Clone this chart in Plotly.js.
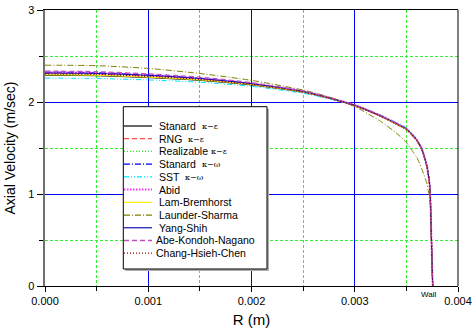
<!DOCTYPE html>
<html>
<head>
<meta charset="utf-8">
<script src="https://cdn.plot.ly/plotly-3.0.1.min.js"></script>
<style>html,body{margin:0;padding:0;background:#fff;}#chart{width:472px;height:333px;}</style>
</head>
<body>
<div id="chart"></div>
<script>
// Radial positions (m)
const radius = [0, 0.0005, 0.001, 0.0015, 0.002, 0.0025, 0.00275, 0.003, 0.00325, 0.0034, 0.0035, 0.00355, 0.0036, 0.00365, 0.0037, 0.00371, 0.00372, 0.00373, 0.00374, 0.003748, 0.003755];

// Axial velocity (m/sec) per turbulence model
const standardKE   = [2.290, 2.285, 2.265, 2.235, 2.185, 2.105, 2.040, 1.960, 1.845, 1.760, 1.700, 1.645, 1.580, 1.480, 1.290, 1.220, 1.150, 1.020, 0.620, 0.280, 0];
const rngKE        = [2.310, 2.305, 2.285, 2.250, 2.195, 2.110, 2.040, 1.960, 1.845, 1.760, 1.700, 1.645, 1.580, 1.480, 1.290, 1.220, 1.150, 1.020, 0.620, 0.280, 0];
const realizableKE = [2.300, 2.295, 2.275, 2.240, 2.190, 2.105, 2.040, 1.962, 1.848, 1.763, 1.702, 1.648, 1.583, 1.483, 1.292, 1.222, 1.152, 1.022, 0.622, 0.282, 0];
const standardKW   = [2.325, 2.320, 2.295, 2.260, 2.200, 2.115, 2.045, 1.965, 1.850, 1.765, 1.705, 1.650, 1.585, 1.485, 1.295, 1.225, 1.155, 1.025, 0.625, 0.285, 0];
const sstKW        = [2.260, 2.255, 2.240, 2.215, 2.170, 2.095, 2.035, 1.965, 1.860, 1.780, 1.720, 1.665, 1.600, 1.500, 1.310, 1.240, 1.170, 1.040, 0.640, 0.290, 0];
const abid         = [2.320, 2.315, 2.290, 2.255, 2.200, 2.115, 2.045, 1.965, 1.850, 1.768, 1.708, 1.652, 1.588, 1.488, 1.298, 1.228, 1.158, 1.028, 0.628, 0.288, 0];
const lamBremhorst = [2.295, 2.290, 2.270, 2.240, 2.190, 2.108, 2.042, 1.962, 1.848, 1.762, 1.702, 1.647, 1.582, 1.482, 1.292, 1.222, 1.152, 1.022, 0.622, 0.282, 0];
const launderSharma= [2.400, 2.395, 2.365, 2.310, 2.235, 2.130, 2.055, 1.950, 1.790, 1.665, 1.560, 1.480, 1.400, 1.270, 1.110, 1.050, 0.990, 0.880, 0.550, 0.250, 0];
const yangShih     = [2.315, 2.310, 2.290, 2.255, 2.200, 2.115, 2.045, 1.965, 1.850, 1.770, 1.710, 1.655, 1.590, 1.490, 1.300, 1.230, 1.160, 1.030, 0.630, 0.290, 0];
const abeKondoh    = [2.335, 2.330, 2.305, 2.270, 2.210, 2.120, 2.050, 1.970, 1.855, 1.770, 1.710, 1.655, 1.590, 1.490, 1.300, 1.230, 1.160, 1.030, 0.630, 0.290, 0];
const changHsieh   = [2.305, 2.300, 2.280, 2.245, 2.190, 2.108, 2.042, 1.962, 1.847, 1.762, 1.702, 1.647, 1.582, 1.482, 1.292, 1.222, 1.152, 1.022, 0.622, 0.282, 0];

const seriesNames = ['Stanard κ−ε', 'RNG κ−ε', 'Realizable κ−ε', 'Stanard κ−ω', 'SST κ−ω', 'Abid', 'Lam-Bremhorst', 'Launder-Sharma', 'Yang-Shih', 'Abe-Kondoh-Nagano', 'Chang-Hsieh-Chen'];
const seriesValues = [standardKE, rngKE, realizableKE, standardKW, sstKW, abid, lamBremhorst, launderSharma, yangShih, abeKondoh, changHsieh];

const xTickLabels = ['0.000', '0.001', '0.002', '0.003', '0.004'];
const yTickLabels = ['0', '1', '2', '3'];

// styles
const colors = ['#000000', '#ff4a4a', '#22ee22', '#0000ff', '#00e5ff', '#ff33ff', '#ffee00', '#808000', '#1010b0', '#c050c0', '#900000'];
const dashes = ['solid', '5px,3px', '1px,2px', '6px,2px,1px,2px', '5px,2px,1px,2px,1px,2px', '1.5px,1.5px', 'solid', '6px,2px,1px,2px', 'solid', '5px,3px', '1px,2px'];
const widths = [1, 1.2, 1.2, 1, 1, 2, 1, 1, 1, 1.3, 1.2];

const traces = seriesValues.map((v, i) => ({
  x: radius, y: v, type: 'scatter', mode: 'lines', name: seriesNames[i],
  line: {color: colors[i], dash: dashes[i], width: widths[i], shape: 'spline', smoothing: 0.6},
  showlegend: false, hoverinfo: 'skip'
}));

// layout geometry (pixels)
const L = 45, T = 10, W = 413, H = 276;
const px = p => (p - L) / W;
const py = p => (T + H - p) / H;

const shapes = [];
const annotations = [];

// right border
shapes.push({type: 'line', xref: 'paper', yref: 'paper', x0: 1, x1: 1, y0: 0, y1: 1, line: {color: '#000', width: 1}});

// custom legend box
const bx0 = 123.3, bx1 = 267, by0 = 106.7, by1 = 269;
shapes.push({type: 'rect', xref: 'paper', yref: 'paper', x0: px(bx0 + 2), x1: px(bx1 + 2), y0: py(by0 + 2), y1: py(by1 + 2), fillcolor: '#b0b0b0', line: {width: 0}});
shapes.push({type: 'rect', xref: 'paper', yref: 'paper', x0: px(bx0), x1: px(bx1), y0: py(by0), y1: py(by1), fillcolor: '#ffffff', line: {color: '#000', width: 1}});

const legendFont = {family: 'Liberation Sans', size: 10.5, color: '#000'};
const cv = document.createElement('canvas').getContext('2d');
cv.font = '10.5px "Liberation Sans"';
const symGap = [6, 6, 3, 6, 6];
seriesNames.forEach((name, i) => {
  const yy = 126 + i * 12.72;
  shapes.push({type: 'line', xref: 'paper', yref: 'paper', x0: px(124), x1: px(152), y0: py(yy), y1: py(yy),
    line: {color: colors[i], dash: dashes[i], width: Math.max(widths[i], 1.2)}});
  const tx = i >= 9 ? 155 : 158;
  const m = name.match(/^(.*) (κ−[εω])$/);
  const base = m ? m[1] : name;
  annotations.push({xref: 'paper', yref: 'paper', x: px(tx), y: py(yy), xanchor: 'left', yanchor: 'middle', align: 'left',
    text: base, showarrow: false, borderpad: 0, font: legendFont});
  if (m) {
    const wdt = cv.measureText(base).width;
    annotations.push({xref: 'paper', yref: 'paper', x: px(tx + wdt + symGap[i]), y: py(yy + 0.5), xanchor: 'left', yanchor: 'middle', align: 'left',
      text: m[2], showarrow: false, borderpad: 0, font: {family: 'DejaVu Serif', size: 8, color: '#000'}});
  }
});

// Wall label
annotations.push({xref: 'x', yref: 'paper', x: 0.003715, y: py(294), xanchor: 'center', yanchor: 'middle',
  text: 'Wall', showarrow: false, font: {family: 'Liberation Sans, Arial', size: 8, color: '#000'}});

const layout = {
  width: 472, height: 333,
  margin: {l: L, r: 472 - L - W, t: T, b: 333 - T - H},
  paper_bgcolor: '#fff', plot_bgcolor: '#fff',
  font: {family: 'Liberation Sans, Arial', size: 11, color: '#000'},
  showlegend: false,
  xaxis: {
    range: [0, 0.004], tickvals: [0, 0.001, 0.002, 0.003, 0.004], ticktext: xTickLabels,
    ticks: 'outside', ticklen: 5, tickcolor: '#000', tickwidth: 1,
    showline: true, linecolor: '#000', linewidth: 1, mirror: true,
    showgrid: true, gridcolor: '#0000ff', gridwidth: 1, zeroline: false,
    minor: {dtick: 0.0005, tick0: 0, ticks: 'outside', ticklen: 4, tickcolor: '#000', showgrid: true, gridcolor: '#33ee33', griddash: '3px,2px', gridwidth: 1},
    title: {text: 'R (m)', font: {size: 15, family: 'Liberation Sans, Arial'}, standoff: 8},
    tickfont: {size: 11}
  },
  yaxis: {
    range: [0, 3], tickvals: [0, 1, 2, 3], ticktext: yTickLabels,
    ticks: 'outside', ticklen: 6, tickcolor: '#000', tickwidth: 1,
    showline: true, linecolor: '#707070', linewidth: 2.5, mirror: false,
    showgrid: true, gridcolor: '#0000ff', gridwidth: 1, zeroline: false,
    minor: {dtick: 0.5, tick0: 0, ticks: 'outside', ticklen: 4, tickcolor: '#000', showgrid: true, gridcolor: '#33ee33', griddash: '3px,2px', gridwidth: 1},
    title: {text: 'Axial Velocity (m/sec)', font: {size: 14, family: 'Liberation Sans, Arial'}, standoff: 10},
    tickfont: {size: 11}
  },
  shapes: shapes,
  annotations: annotations
};

Plotly.newPlot('chart', traces, layout, {staticPlot: true, displayModeBar: false});
</script>
</body>
</html>
